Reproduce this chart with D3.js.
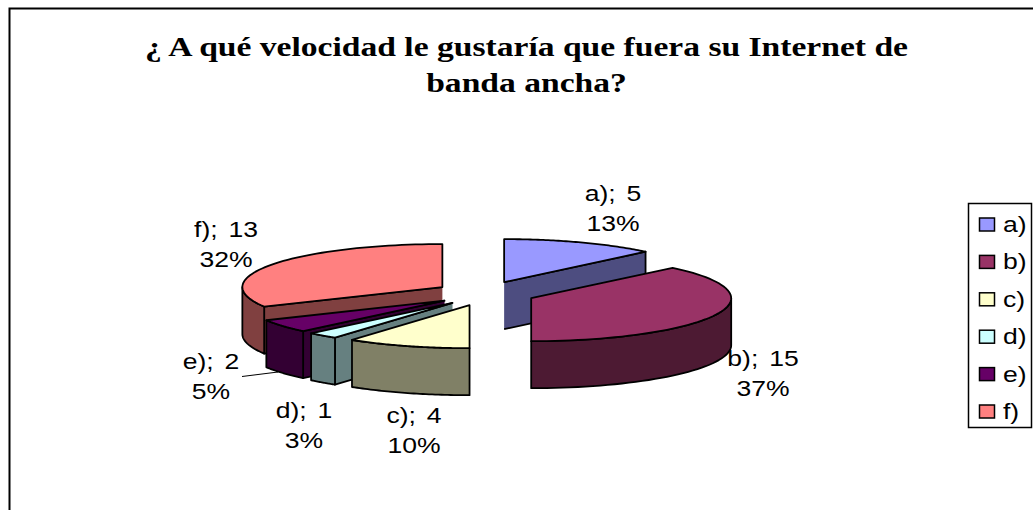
<!DOCTYPE html>
<html><head><meta charset="utf-8">
<script src="https://cdn.jsdelivr.net/npm/d3@7"></script>
<style>html,body{margin:0;padding:0;background:#fff;overflow:hidden}svg{display:block}</style>
</head><body><div id="c"></div>
<script>
const titleLines = ["¿ A qué velocidad le gustaría que fuera su Internet de", "banda ancha?"];
const categories = ["a)", "b)", "c)", "d)", "e)", "f)"];
const values = [5, 15, 4, 1, 2, 13];
const percentLabels = ["13%", "37%", "10%", "3%", "5%", "32%"];
const topColors = ["#9999FF", "#993366", "#FFFFCC", "#CCFFFF", "#660066", "#FF8080"];
const sideColors = ["#4D4D80", "#4D1A33", "#808066", "#668080", "#330033", "#804040"];
const labelAnchors = [[613, 201], [763, 366], [414, 423], [304, 417.5], [211, 369], [226, 237]];
const drawOrder = [0, 1, 5, 4, 3, 2];

const W = 1033, H = 510;
const svg = d3.select("#c").append("svg").attr("width", W).attr("height", H);
svg.append("path").attr("d", `M9.5 ${H}V8.5H${W}`).attr("fill", "none").attr("stroke", "#000").attr("stroke-width", 2);

const stretched = (sel, x, y, sx) => sel.attr("transform", `translate(${x},${y}) scale(${sx},1)`);

const titleG = svg.append("g").attr("font-family", "Liberation Serif").attr("font-weight", "bold")
  .attr("font-size", 28).attr("text-anchor", "middle");
titleLines.forEach((t, i) => stretched(titleG.append("text").text(t), 526.5, 56 + i * 36, 1.2));

const cx = 485, cy = 293.5, rx = 200, ry = 43, depth = 47, explodeX = 50, explodeY = 12.3;
const arcs = d3.pie().value(d => d).sort(null)(values);
const px = d3.scaleLinear().domain([-1, 1]).range([-rx, rx]);
const py = d3.scaleLinear().domain([-1, 1]).range([ry, -ry]);
const line = d3.line().curve(d3.curveLinear);
const pt = (c, a, dz = 0) => [c[0] + px(Math.sin(a)), c[1] + py(Math.cos(a)) + dz];

// leader line for e)
svg.append("path").attr("d", "M242 376.5L278 372").attr("stroke", "#000").attr("fill", "none");

const g = svg.append("g").attr("stroke", "#000").attr("stroke-width", 1.8).attr("stroke-linejoin", "round");
drawOrder.forEach(i => {
  const a = arcs[i], mid = (a.startAngle + a.endAngle) / 2;
  const c = [cx + explodeX * Math.sin(mid), cy - explodeY * Math.cos(mid)];
  const face = ang => {
    const o = pt(c, ang);
    return line([c, o, [o[0], o[1] + depth], [c[0], c[1] + depth]]);
  };
  if (Math.sin(a.startAngle) < -1e-6) g.append("path").attr("d", face(a.startAngle)).attr("fill", sideColors[i]);
  if (Math.sin(a.endAngle) > 1e-6) g.append("path").attr("d", face(a.endAngle)).attr("fill", sideColors[i]);
  const r0 = Math.max(a.startAngle, Math.PI / 2), r1 = Math.min(a.endAngle, 3 * Math.PI / 2);
  if (r1 > r0) {
    const as = d3.range(0, 41).map(k => r0 + (r1 - r0) * k / 40);
    const top = as.map(t => pt(c, t)), bot = as.map(t => pt(c, t, depth)).reverse();
    g.append("path").attr("d", line(top.concat(bot)) + "Z").attr("fill", sideColors[i]);
  }
  const as = d3.range(0, 61).map(k => a.startAngle + (a.endAngle - a.startAngle) * k / 60);
  g.append("path").attr("d", line([c].concat(as.map(t => pt(c, t)))) + "Z").attr("fill", topColors[i]);
});

const font = "Liberation Sans", fs = 22.5, sx = 1.18;
const lab = svg.append("g").attr("font-family", font).attr("font-size", fs).attr("text-anchor", "middle").attr("fill", "#000");
categories.forEach((n, i) => {
  const [x, y] = labelAnchors[i];
  stretched(lab.append("text").attr("word-spacing", 3).text(`${n}; ${values[i]}`), x, y, sx);
  stretched(lab.append("text").text(percentLabels[i]), x, y + 30, sx);
});

const leg = svg.append("g");
leg.append("rect").attr("x", 968.5).attr("y", 203.5).attr("width", 63).attr("height", 224).attr("fill", "#fff").attr("stroke", "#000").attr("stroke-width", 1.5);
const rowY = d3.scalePoint().domain(categories).range([224.5, 411.5]);
categories.forEach((n, i) => {
  leg.append("rect").attr("x", 979.5).attr("y", rowY(n) - 6.5).attr("width", 15).attr("height", 13)
    .attr("fill", topColors[i]).attr("stroke", "#000").attr("stroke-width", 1.5);
  stretched(leg.append("text").attr("font-family", font).attr("font-size", fs).text(n), 1003, rowY(n) + 7.5, sx);
});
</script></body></html>
